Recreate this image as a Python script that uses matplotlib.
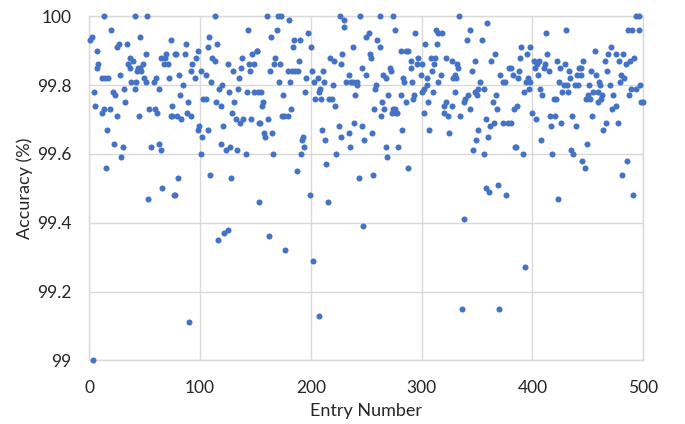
import numpy as np
import matplotlib
matplotlib.use("Agg")
import matplotlib.pyplot as plt
from matplotlib.ticker import FormatStrFormatter

# values, one block per strip of entries
entry_a = [13, 41, 52, 20, 2, 1, 27, 25, 34, 7,
           46, 74, 51, 69, 65, 68, 77, 37, 39, 48,
           35, 37, 44, 43, 47, 46, 8, 7, 28, 67,
           71, 11, 14, 17, 38, 42, 49, 51, 58, 60,
           72, 4, 21, 23, 31, 41, 63, 5, 13, 11,
           19, 32, 25, 45, 54, 59, 61, 74, 75, 75,
           16, 22, 30, 56, 63, 65, 29, 15, 66, 53,
           76, 77, 3, 90, 116, 122, 125, 153]
acc_a = [100, 100, 100, 99.96, 99.94, 99.93, 99.92, 99.91, 99.92, 99.90,
         99.94, 99.93, 99.89, 99.89, 99.88, 99.88, 99.89, 99.88, 99.87, 99.86,
         99.86, 99.85, 99.85, 99.84, 99.84, 99.85, 99.86, 99.85, 99.83, 99.86,
         99.86, 99.82, 99.82, 99.82, 99.81, 99.81, 99.82, 99.81, 99.81, 99.82,
         99.82, 99.78, 99.78, 99.77, 99.79, 99.79, 99.79, 99.74, 99.73, 99.72,
         99.73, 99.75, 99.71, 99.71, 99.73, 99.73, 99.72, 99.71, 99.71, 99.74,
         99.67, 99.63, 99.62, 99.62, 99.63, 99.61, 99.59, 99.56, 99.50, 99.47,
         99.48, 99.48, 99.00, 99.11, 99.35, 99.37, 99.38, 99.46]

entry_b = [113, 143, 108, 87, 107, 115, 98, 78, 86, 111,
           113, 96, 93, 138, 125, 147, 151, 144, 149, 137,
           130, 145, 92, 101, 105, 81, 95, 135, 110, 120,
           117, 85, 126, 134, 142, 149, 152, 103, 105, 82,
           114, 119, 89, 131, 129, 88, 92, 79, 83, 132,
           139, 136, 146, 153, 121, 99, 98, 107, 102, 119,
           127, 123, 133, 141, 101, 109, 128, 80]
acc_b = [100, 99.96, 99.94, 99.92, 99.91, 99.92, 99.90, 99.89, 99.89, 99.88,
         99.87, 99.88, 99.86, 99.88, 99.86, 99.89, 99.90, 99.86, 99.86, 99.85,
         99.84, 99.84, 99.84, 99.84, 99.83, 99.83, 99.82, 99.82, 99.81, 99.80,
         99.79, 99.80, 99.78, 99.79, 99.78, 99.78, 99.78, 99.76, 99.76, 99.77,
         99.75, 99.74, 99.75, 99.75, 99.72, 99.72, 99.71, 99.71, 99.70, 99.70,
         99.70, 99.69, 99.70, 99.69, 99.68, 99.68, 99.67, 99.67, 99.65, 99.63,
         99.62, 99.61, 99.61, 99.60, 99.60, 99.54, 99.53, 99.53]

entry_c = [160, 170, 173, 180, 226, 230, 164, 169, 197, 185,
           190, 184, 200, 151, 168, 167, 172, 189, 163, 179,
           183, 186, 188, 201, 211, 217, 221, 228, 227, 196,
           206, 203, 212, 171, 181, 220, 195, 208, 207, 175,
           157, 156, 204, 209, 216, 219, 222, 182, 174, 176,
           179, 161, 154, 158, 159, 165, 193, 192, 194, 210,
           213, 225, 227, 166, 191, 223, 214, 187, 155, 162,
           177, 199, 202, 207, 215]
acc_c = [100, 100, 100, 99.99, 100, 99.99, 99.94, 99.96, 99.95, 99.93,
         99.93, 99.91, 99.91, 99.90, 99.88, 99.86, 99.86, 99.87, 99.84, 99.84,
         99.84, 99.84, 99.84, 99.84, 99.84, 99.88, 99.87, 99.89, 99.86, 99.82,
         99.82, 99.81, 99.81, 99.81, 99.81, 99.80, 99.78, 99.79, 99.78, 99.77,
         99.75, 99.74, 99.76, 99.76, 99.76, 99.76, 99.74, 99.73, 99.71, 99.71,
         99.71, 99.70, 99.69, 99.66, 99.65, 99.66, 99.65, 99.64, 99.62, 99.67,
         99.64, 99.68, 99.65, 99.60, 99.60, 99.60, 99.57, 99.55, 99.78, 99.36,
         99.32, 99.48, 99.29, 99.13, 99.46]

entry_d = [244, 262, 274, 230, 276, 294, 252, 250, 260, 262,
           238, 303, 253, 254, 281, 286, 288, 297, 290, 296,
           300, 246, 271, 272, 290, 234, 250, 265, 268, 299,
           232, 236, 238, 242, 242, 283, 284, 291, 305, 259,
           258, 305, 302, 300, 240, 270, 281, 293, 292, 264,
           286, 306, 257, 266, 274, 276, 273, 278, 277, 263,
           302, 239, 246, 234, 255, 248, 282, 307, 235, 268,
           279, 269, 288, 256, 243, 247]
acc_d = [100, 100, 100, 99.97, 99.96, 99.95, 99.95, 99.94, 99.93, 99.91,
         99.91, 99.92, 99.89, 99.88, 99.90, 99.90, 99.90, 99.88, 99.87, 99.86,
         99.86, 99.85, 99.85, 99.84, 99.85, 99.83, 99.83, 99.83, 99.82, 99.83,
         99.81, 99.81, 99.81, 99.81, 99.80, 99.82, 99.81, 99.81, 99.82, 99.80,
         99.79, 99.80, 99.79, 99.78, 99.77, 99.77, 99.77, 99.77, 99.76, 99.75,
         99.75, 99.75, 99.73, 99.73, 99.73, 99.73, 99.72, 99.72, 99.72, 99.71,
         99.72, 99.69, 99.68, 99.66, 99.66, 99.64, 99.67, 99.67, 99.62, 99.62,
         99.62, 99.59, 99.56, 99.54, 99.53, 99.39]

entry_e = [334, 359, 313, 315, 318, 344, 314, 341, 354, 366,
           363, 308, 312, 322, 327, 348, 332, 333, 311, 309,
           345, 317, 330, 328, 331, 315, 371, 379, 381, 353,
           373, 375, 382, 351, 356, 348, 350, 310, 330, 342,
           339, 338, 367, 322, 320, 327, 364, 344, 368, 383,
           320, 324, 335, 358, 365, 362, 373, 378, 381, 351,
           325, 360, 349, 384, 346, 356, 369, 361, 358, 376,
           338, 336, 370]
acc_e = [100, 99.98, 99.96, 99.95, 99.95, 99.96, 99.92, 99.93, 99.93, 99.89,
         99.87, 99.88, 99.88, 99.88, 99.87, 99.87, 99.86, 99.85, 99.86, 99.84,
         99.84, 99.83, 99.83, 99.82, 99.82, 99.81, 99.83, 99.85, 99.85, 99.81,
         99.81, 99.81, 99.83, 99.79, 99.79, 99.78, 99.77, 99.78, 99.78, 99.77,
         99.76, 99.75, 99.77, 99.75, 99.74, 99.74, 99.75, 99.73, 99.73, 99.73,
         99.72, 99.71, 99.71, 99.70, 99.69, 99.68, 99.69, 99.69, 99.69, 99.67,
         99.66, 99.65, 99.64, 99.62, 99.61, 99.60, 99.51, 99.49, 99.50, 99.48,
         99.41, 99.15, 99.15]

entry_f = [430, 412, 390, 398, 395, 413, 389, 456, 401, 406,
           404, 402, 411, 410, 415, 422, 429, 425, 446, 442,
           444, 433, 453, 457, 388, 387, 405, 440, 444, 434,
           394, 396, 398, 424, 428, 431, 438, 441, 451, 460,
           397, 407, 392, 427, 432, 455, 459, 409, 419, 421,
           448, 450, 452, 459, 386, 400, 403, 416, 420, 436,
           454, 417, 426, 439, 408, 449, 385, 391, 418, 435,
           437, 445, 447, 423, 393]
acc_f = [99.96, 99.95, 99.91, 99.91, 99.89, 99.89, 99.88, 99.90, 99.87, 99.87,
         99.86, 99.85, 99.86, 99.85, 99.84, 99.87, 99.86, 99.85, 99.87, 99.85,
         99.85, 99.84, 99.84, 99.83, 99.84, 99.82, 99.83, 99.83, 99.83, 99.82,
         99.81, 99.82, 99.81, 99.81, 99.80, 99.80, 99.80, 99.80, 99.80, 99.81,
         99.79, 99.79, 99.78, 99.78, 99.78, 99.78, 99.78, 99.77, 99.76, 99.76,
         99.76, 99.77, 99.76, 99.75, 99.74, 99.72, 99.70, 99.71, 99.71, 99.71,
         99.71, 99.68, 99.69, 99.68, 99.64, 99.63, 99.62, 99.60, 99.60, 99.61,
         99.60, 99.58, 99.56, 99.47, 99.27]

entry_g = [493, 496, 486, 490, 496, 471, 468, 475, 482, 465,
           478, 488, 492, 484, 467, 480, 483, 461, 470, 479,
           497, 489, 493, 463, 462, 473, 487, 498, 500, 475,
           472, 466, 477, 464, 485, 481, 491]
acc_g = [100, 100, 99.96, 99.96, 99.96, 99.91, 99.89, 99.89, 99.89, 99.87,
         99.87, 99.87, 99.88, 99.86, 99.84, 99.83, 99.82, 99.80, 99.80, 99.81,
         99.80, 99.79, 99.79, 99.77, 99.76, 99.77, 99.77, 99.75, 99.75, 99.74,
         99.73, 99.69, 99.69, 99.67, 99.58, 99.54, 99.48]

x_ticks = [0, 100, 200, 300, 400, 500]
y_ticks = [99.0, 99.2, 99.4, 99.6, 99.8, 100.0]

entries = np.concatenate([entry_a, entry_b, entry_c, entry_d, entry_e, entry_f, entry_g])
accuracy = np.concatenate([acc_a, acc_b, acc_c, acc_d, acc_e, acc_f, acc_g])

plt.rcParams['font.family'] = ['Lato', 'DejaVu Sans']
text_color = '#262626'
grid_color = '#d9d9d9'

fig = plt.figure(figsize=(6.85, 4.24), dpi=100)
ax = fig.add_axes([0.1304, 0.1502, 0.8087, 0.8114])

ax.scatter(entries, accuracy, s=19, color='#4472C4', linewidths=0, zorder=3, clip_on=False)

ax.set_xlim(0, 500)
ax.set_ylim(99, 100)
ax.set_xticks(x_ticks)
ax.set_yticks(y_ticks)
ax.yaxis.set_major_formatter(FormatStrFormatter('%g'))
ax.tick_params(length=0, labelsize=12.5, labelcolor=text_color)
ax.tick_params(axis='x', pad=14)
ax.tick_params(axis='y', pad=13)

ax.grid(True, color=grid_color, linewidth=1)
ax.set_axisbelow(True)
for side in ax.spines.values():
    side.set_color(grid_color)
    side.set_linewidth(1)

ax.set_xlabel('Entry Number', fontsize=13, color=text_color, va='center')
ax.set_ylabel('Accuracy (%)', fontsize=13, color=text_color, va='center')
ax.xaxis.set_label_coords(0.5, -0.148)
ax.yaxis.set_label_coords(-0.116, 0.5)

fig.savefig('out.png', dpi=100)
